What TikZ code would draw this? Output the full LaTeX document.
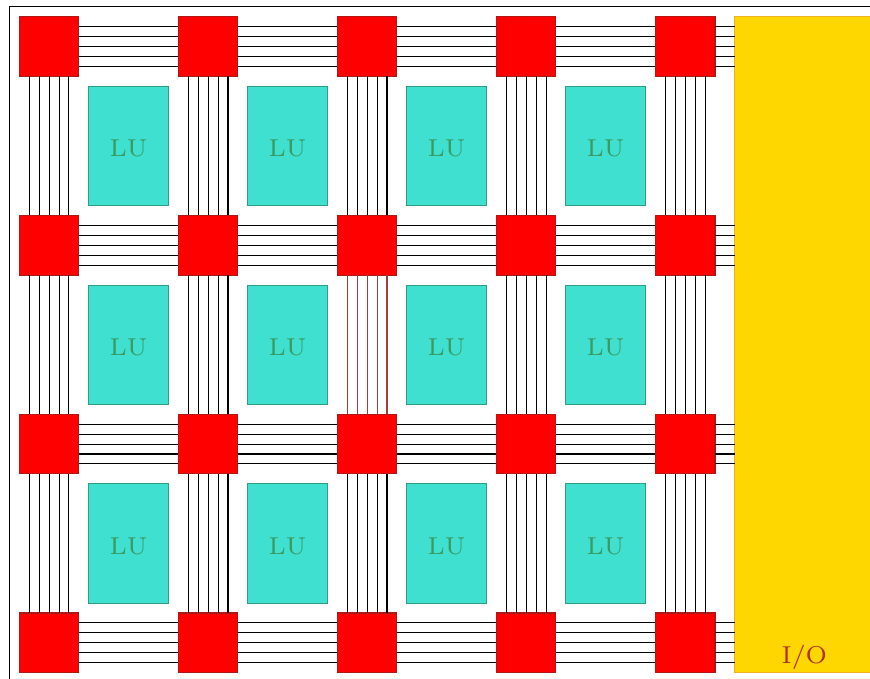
\documentclass[tikz,border=0pt]{standalone}
\usepackage{tikz}
\usetikzlibrary{positioning,calc}
\definecolor{swred}{HTML}{FF0000}
\definecolor{swedge}{HTML}{B01818}
\definecolor{luteal}{HTML}{40E0D0}
\definecolor{luedge}{HTML}{2E9E7E}
\definecolor{lutext}{HTML}{3A9A60}
\definecolor{iogold}{HTML}{FFD700}
\definecolor{ioedge}{HTML}{F0B020}
\definecolor{iotext}{HTML}{B0302A}
\definecolor{wirehl}{HTML}{A83A3A}

\begin{document}
\begin{tikzpicture}[x=1mm,y=-1mm,every node/.style={font=\fontsize{7}{8}\selectfont,inner sep=0pt,outer sep=0pt}]
\tikzset{switch/.style={draw=swedge,fill=swred,line width=0.3pt,minimum width=6mm,minimum height=6mm,anchor=north west},
  logic/.style={draw=luedge,fill=luteal,text=lutext,line width=0.3pt,minimum width=8mm,minimum height=12mm,text height=2.2mm,anchor=north west},
  wire/.style={line width=0.3pt,black}}
\useasboundingbox (-1.94,-1.68) rectangle (85.6,66.6);
\clip (-1.94,-1.68) rectangle (85.6,66.6);
\draw[line width=0.35pt] (-1,-1) rectangle (95,75);
% I/O column
\node[draw=ioedge,fill=iogold,line width=0.3pt,minimum width=14mm,minimum height=66mm,anchor=north west] (io) at (72,0) {};
\node[text=iotext,anchor=base] (iolab) at ([yshift=0.9mm]io.south) {I/O};
% switch boxes and logic units
\foreach \r in {0,...,3}{
  \foreach \c in {0,...,4}{
    \node[switch] (s\r\c) at (16*\c,20*\r) {};
  }
}
\foreach \r in {0,1,2}{
  \foreach \c in {0,...,3}{
    \node[logic] (lu\r\c) at (16*\c+7,20*\r+7) {LU};
  }
}
% horizontal channels
\foreach \r in {0,...,3}{
  \foreach \c [evaluate=\c as \n using int(\c+1)] in {0,...,3}{
    \foreach \k in {1,...,5}{
      \draw[wire] ([yshift=-\k mm]s\r\c.north east)--([yshift=-\k mm]s\r\n.north west);
    }
  }
  \foreach \k in {1,...,5}{
    \draw[wire] ([yshift=-\k mm]s\r4.north east)--([yshift=-\k mm]s\r4.north east -| io.west);
  }
}
% vertical channels
\foreach \r [evaluate=\r as \n using int(\r+1)] in {0,1,2}{
  \foreach \c in {0,...,4}{
    \foreach \k in {1,...,5}{
      \draw[wire] ([xshift=\k mm]s\r\c.south west)--([xshift=\k mm]s\n\c.north west);
    }
  }
}
\foreach \k in {1,...,5}{
  \draw[wire,wirehl] ([xshift=\k mm]s12.south west)--([xshift=\k mm]s22.north west);
}
\end{tikzpicture}
\end{document}
